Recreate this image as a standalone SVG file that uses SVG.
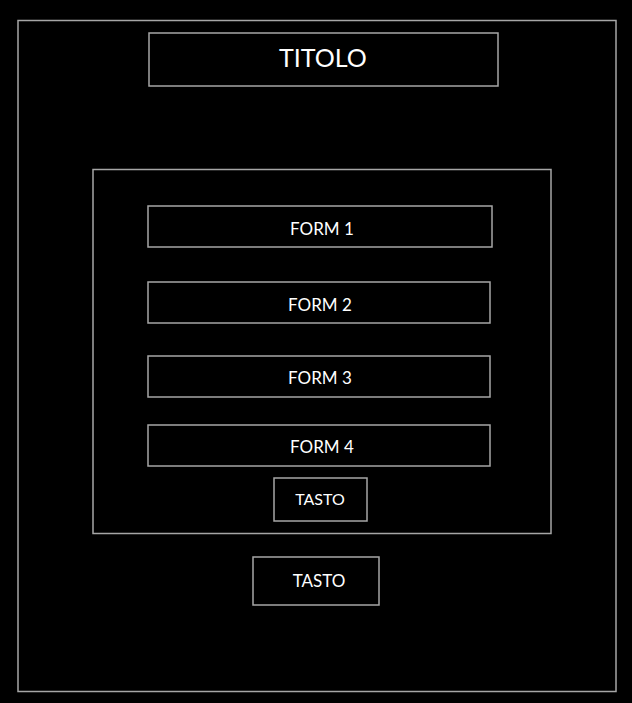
<svg xmlns="http://www.w3.org/2000/svg" width="632" height="703" viewBox="0 0 632 703">
<style>
.b{fill:none;stroke:#a6a6a6;stroke-width:1.5}
.t{fill:#ffffff;font-family:"Lato","Open Sans",sans-serif;text-anchor:middle;dominant-baseline:central}
</style>
<rect width="632" height="703" fill="#000"/>
<g id="frame"><rect class="b" x="18" y="20.5" width="598" height="671"/></g>
<g id="titolo"><rect class="b" x="149" y="33" width="349" height="53"/><text class="t" x="323" y="57" font-size="25">TITOLO</text></g>
<g id="container"><rect class="b" x="93" y="169.5" width="458" height="364"/></g>
<g id="form1"><rect class="b" x="148" y="206" width="344" height="41"/><text class="t" x="322" y="228" font-size="17">FORM 1</text></g>
<g id="form2"><rect class="b" x="148" y="282" width="342" height="41"/><text class="t" x="320" y="304" font-size="17">FORM 2</text></g>
<g id="form3"><rect class="b" x="148" y="356" width="342" height="41"/><text class="t" x="320" y="377" font-size="17">FORM 3</text></g>
<g id="form4"><rect class="b" x="148" y="425" width="342" height="41"/><text class="t" x="322" y="446" font-size="17">FORM 4</text></g>
<g id="tasto1"><rect class="b" x="274" y="478" width="93" height="43"/><text class="t" x="320" y="498" font-size="16" fill="#e8f0ff">TASTO</text></g>
<g id="tasto2"><rect class="b" x="253" y="557" width="126" height="48"/><text class="t" x="319" y="580" font-size="17">TASTO</text></g>
<g id="connectors"/>
</svg>
